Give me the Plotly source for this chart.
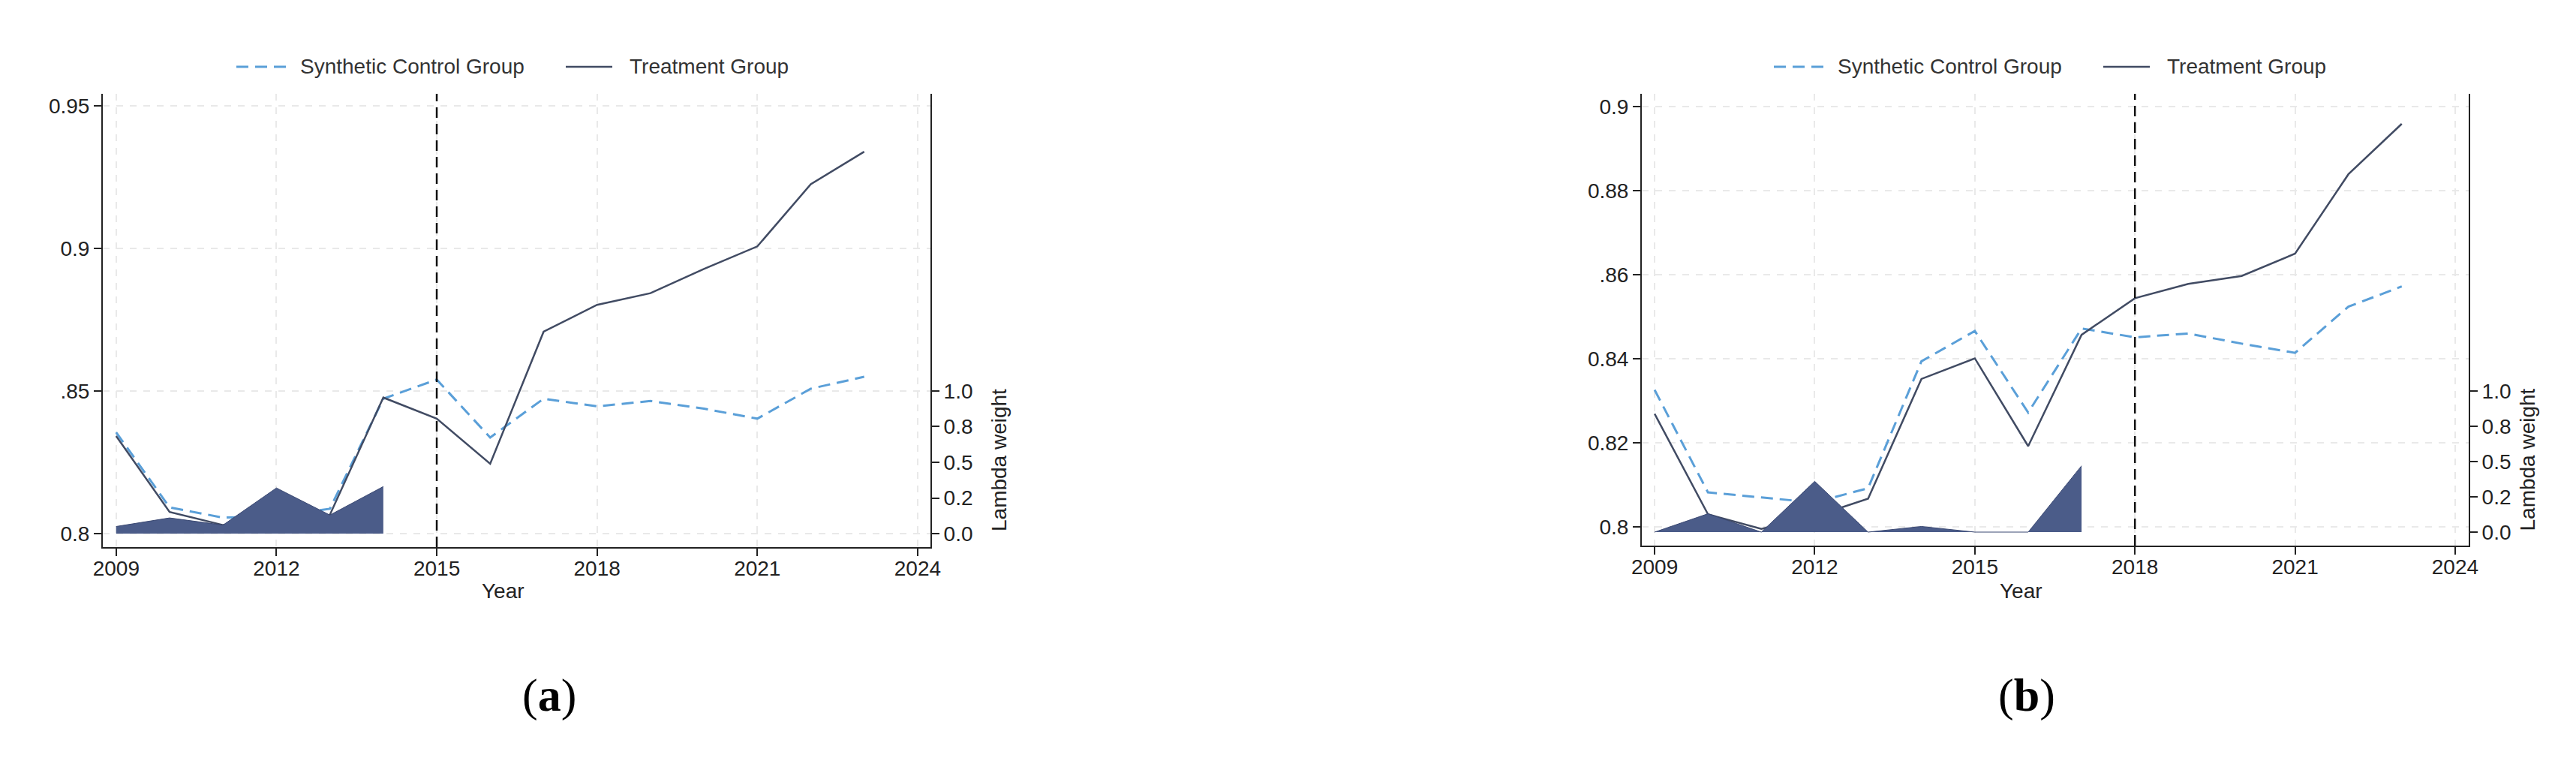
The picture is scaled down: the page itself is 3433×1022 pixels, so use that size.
import plotly.graph_objects as go

W, H = 3433, 1022

years = list(range(2009, 2024))

# panel (a): treatment starts 2015
a_synth = [0.8355, 0.8092, 0.8056, 0.8060, 0.8087, 0.8473, 0.8540, 0.8337,
           0.8473, 0.8446, 0.8465, 0.8438, 0.8403, 0.8508, 0.8550]
a_treat = [0.8342, 0.8076, 0.8030, 0.8050, 0.8066, 0.8477, 0.8403, 0.8245,
           0.8708, 0.8802, 0.8843, 0.8928, 0.9007, 0.9225, 0.9339]
a_pre_years = [2009, 2010, 2011, 2012, 2013, 2014]
a_lambda = [0.05, 0.11, 0.06, 0.32, 0.13, 0.33]
a_event = 2015

# panel (b): treatment starts 2018
b_synth = [0.8326, 0.8082, 0.8070, 0.8058, 0.8092, 0.8394, 0.8466, 0.8272,
           0.8472, 0.8451, 0.8460, 0.8436, 0.8414, 0.8524, 0.8572]
b_treat = [0.8269, 0.8030, 0.7995, 0.8025, 0.8067, 0.8352, 0.8401, 0.8192,
           0.8457, 0.8544, 0.8578, 0.8597, 0.8650, 0.8839, 0.8959]
b_pre_years = [2009, 2010, 2011, 2012, 2013, 2014, 2015, 2016, 2017]
b_lambda = [0.0, 0.13, 0.0, 0.36, 0.0, 0.04, 0.0, 0.0, 0.47]
b_event = 2018

year_ticks = [2009, 2012, 2015, 2018, 2021, 2024]
a_yticks = [0.8, 0.85, 0.9, 0.95]
a_ytext = ["0.8", ".85", "0.9", "0.95"]
b_yticks = [0.8, 0.82, 0.84, 0.86, 0.88, 0.9]
b_ytext = ["0.8", "0.82", "0.84", ".86", "0.88", "0.9"]
w_ticks = [0, 0.25, 0.5, 0.75, 1.0]
w_text = ["0.0", "0.2", "0.5", "0.8", "1.0"]

SYNTH = "#5a9fd8"
TREAT = "#414b63"
FILL = "#4b5c89"
EDGE = "#3a4872"
INK = "#222222"
GRID = "#e9e9e9"
SYNTH_DASH = "16px,9px"


def px(x):
    return x / W


def py(y):
    return 1 - y / H


fig = go.Figure()


def add_panel(xa, ya, ya_w, synth, treat, pre_years, lam):
    fig.add_trace(go.Scatter(
        x=years, y=synth, xaxis=xa, yaxis=ya, mode="lines",
        name="Synthetic Control Group", showlegend=False,
        line=dict(color=SYNTH, width=3, dash=SYNTH_DASH),
    ))
    fig.add_trace(go.Scatter(
        x=years, y=treat, xaxis=xa, yaxis=ya, mode="lines",
        name="Treatment Group", showlegend=False,
        line=dict(color=TREAT, width=2.5),
    ))
    fig.add_trace(go.Scatter(
        x=pre_years, y=lam, xaxis=xa, yaxis=ya_w, mode="lines",
        fill="tozeroy", fillcolor=FILL, showlegend=False, name="Lambda weight",
        line=dict(color=EDGE, width=1),
    ))


add_panel("x", "y", "y2", a_synth, a_treat, a_pre_years, a_lambda)
add_panel("x2", "y3", "y4", b_synth, b_treat, b_pre_years, b_lambda)

axis_common = dict(
    showline=True, linecolor=INK, linewidth=2, ticks="outside", ticklen=10,
    tickwidth=2, tickcolor=INK, zeroline=False, automargin=False,
    tickfont=dict(size=28, color=INK),
)
grid = dict(showgrid=True, gridcolor=GRID, gridwidth=2, griddash="dash")
xtick = dict(tickvals=year_ticks, ticklabelstandoff=-8)

fig.update_layout(
    width=W, height=H,
    margin=dict(l=0, r=0, t=0, b=0),
    paper_bgcolor="white", plot_bgcolor="white",
    font=dict(family="Liberation Sans, Arial, sans-serif", size=28, color=INK),
    xaxis=dict(domain=[px(129), px(1232)], range=[2008.75, 2024.24], anchor="y",
               **xtick, **axis_common, **grid),
    yaxis=dict(domain=[py(721), py(117)], range=[0.79526, 0.9542], anchor="x",
               tickvals=a_yticks, ticktext=a_ytext, **axis_common, **grid),
    yaxis2=dict(overlaying="y", side="right", anchor="x", range=[-0.0947, 3.084],
                tickvals=w_ticks, ticktext=w_text, showgrid=False, **axis_common),
    xaxis2=dict(domain=[px(2180), px(3282)], range=[2008.76, 2024.254], anchor="y3",
                **xtick, **axis_common, **grid),
    yaxis3=dict(domain=[py(719), py(117)], range=[0.79554, 0.90304], anchor="x2",
                tickvals=b_yticks, ticktext=b_ytext, **axis_common, **grid),
    yaxis4=dict(overlaying="y3", side="right", anchor="x2", range=[-0.0957, 3.106],
                tickvals=w_ticks, ticktext=w_text, showgrid=False, **axis_common),
    showlegend=False,
)

# treatment year marker
for xref, yref, ev in [("x", "y domain", a_event), ("x2", "y3 domain", b_event)]:
    fig.add_shape(type="line", xref=xref, yref=yref, x0=ev, x1=ev, y0=0, y1=1,
                  line=dict(color="#111111", width=2.5, dash="14px,8px"))

# legends above each panel (drawn by hand so the key lines are Stata-long)
for dx in [0, 2049]:
    fig.add_shape(type="line", xref="paper", yref="paper",
                  x0=px(307 + dx), x1=px(373 + dx), y0=py(81), y1=py(81),
                  line=dict(color=SYNTH, width=3, dash=SYNTH_DASH))
    fig.add_annotation(x=px(390 + dx), y=py(81), xref="paper", yref="paper",
                       xanchor="left", yanchor="middle", showarrow=False,
                       text="Synthetic Control Group",
                       font=dict(size=28, color="#333"))
    fig.add_shape(type="line", xref="paper", yref="paper",
                  x0=px(746 + dx), x1=px(808 + dx), y0=py(81), y1=py(81),
                  line=dict(color=TREAT, width=2.5))
    fig.add_annotation(x=px(829 + dx), y=py(81), xref="paper", yref="paper",
                       xanchor="left", yanchor="middle", showarrow=False,
                       text="Treatment Group", font=dict(size=28, color="#333"))

# axis titles and panel captions
for x in [632, 2716]:
    fig.add_annotation(x=px(x), y=py(797), xref="paper", yref="paper",
                       text="Year", showarrow=False, font=dict(size=28, color=INK))
for x in [1323, 3377]:
    fig.add_annotation(x=px(x), y=py(605), xref="paper", yref="paper",
                       text="Lambda weight", textangle=-90, showarrow=False,
                       font=dict(size=28, color=INK))
for x, tag in [(686, "a"), (2733, "b")]:
    fig.add_annotation(x=px(x), y=py(955), xref="paper", yref="paper",
                       text=f"(<b>{tag}</b>)", showarrow=False,
                       font=dict(family="Liberation Serif, serif", size=62, color="#000"))

fig.write_html("out.html")
